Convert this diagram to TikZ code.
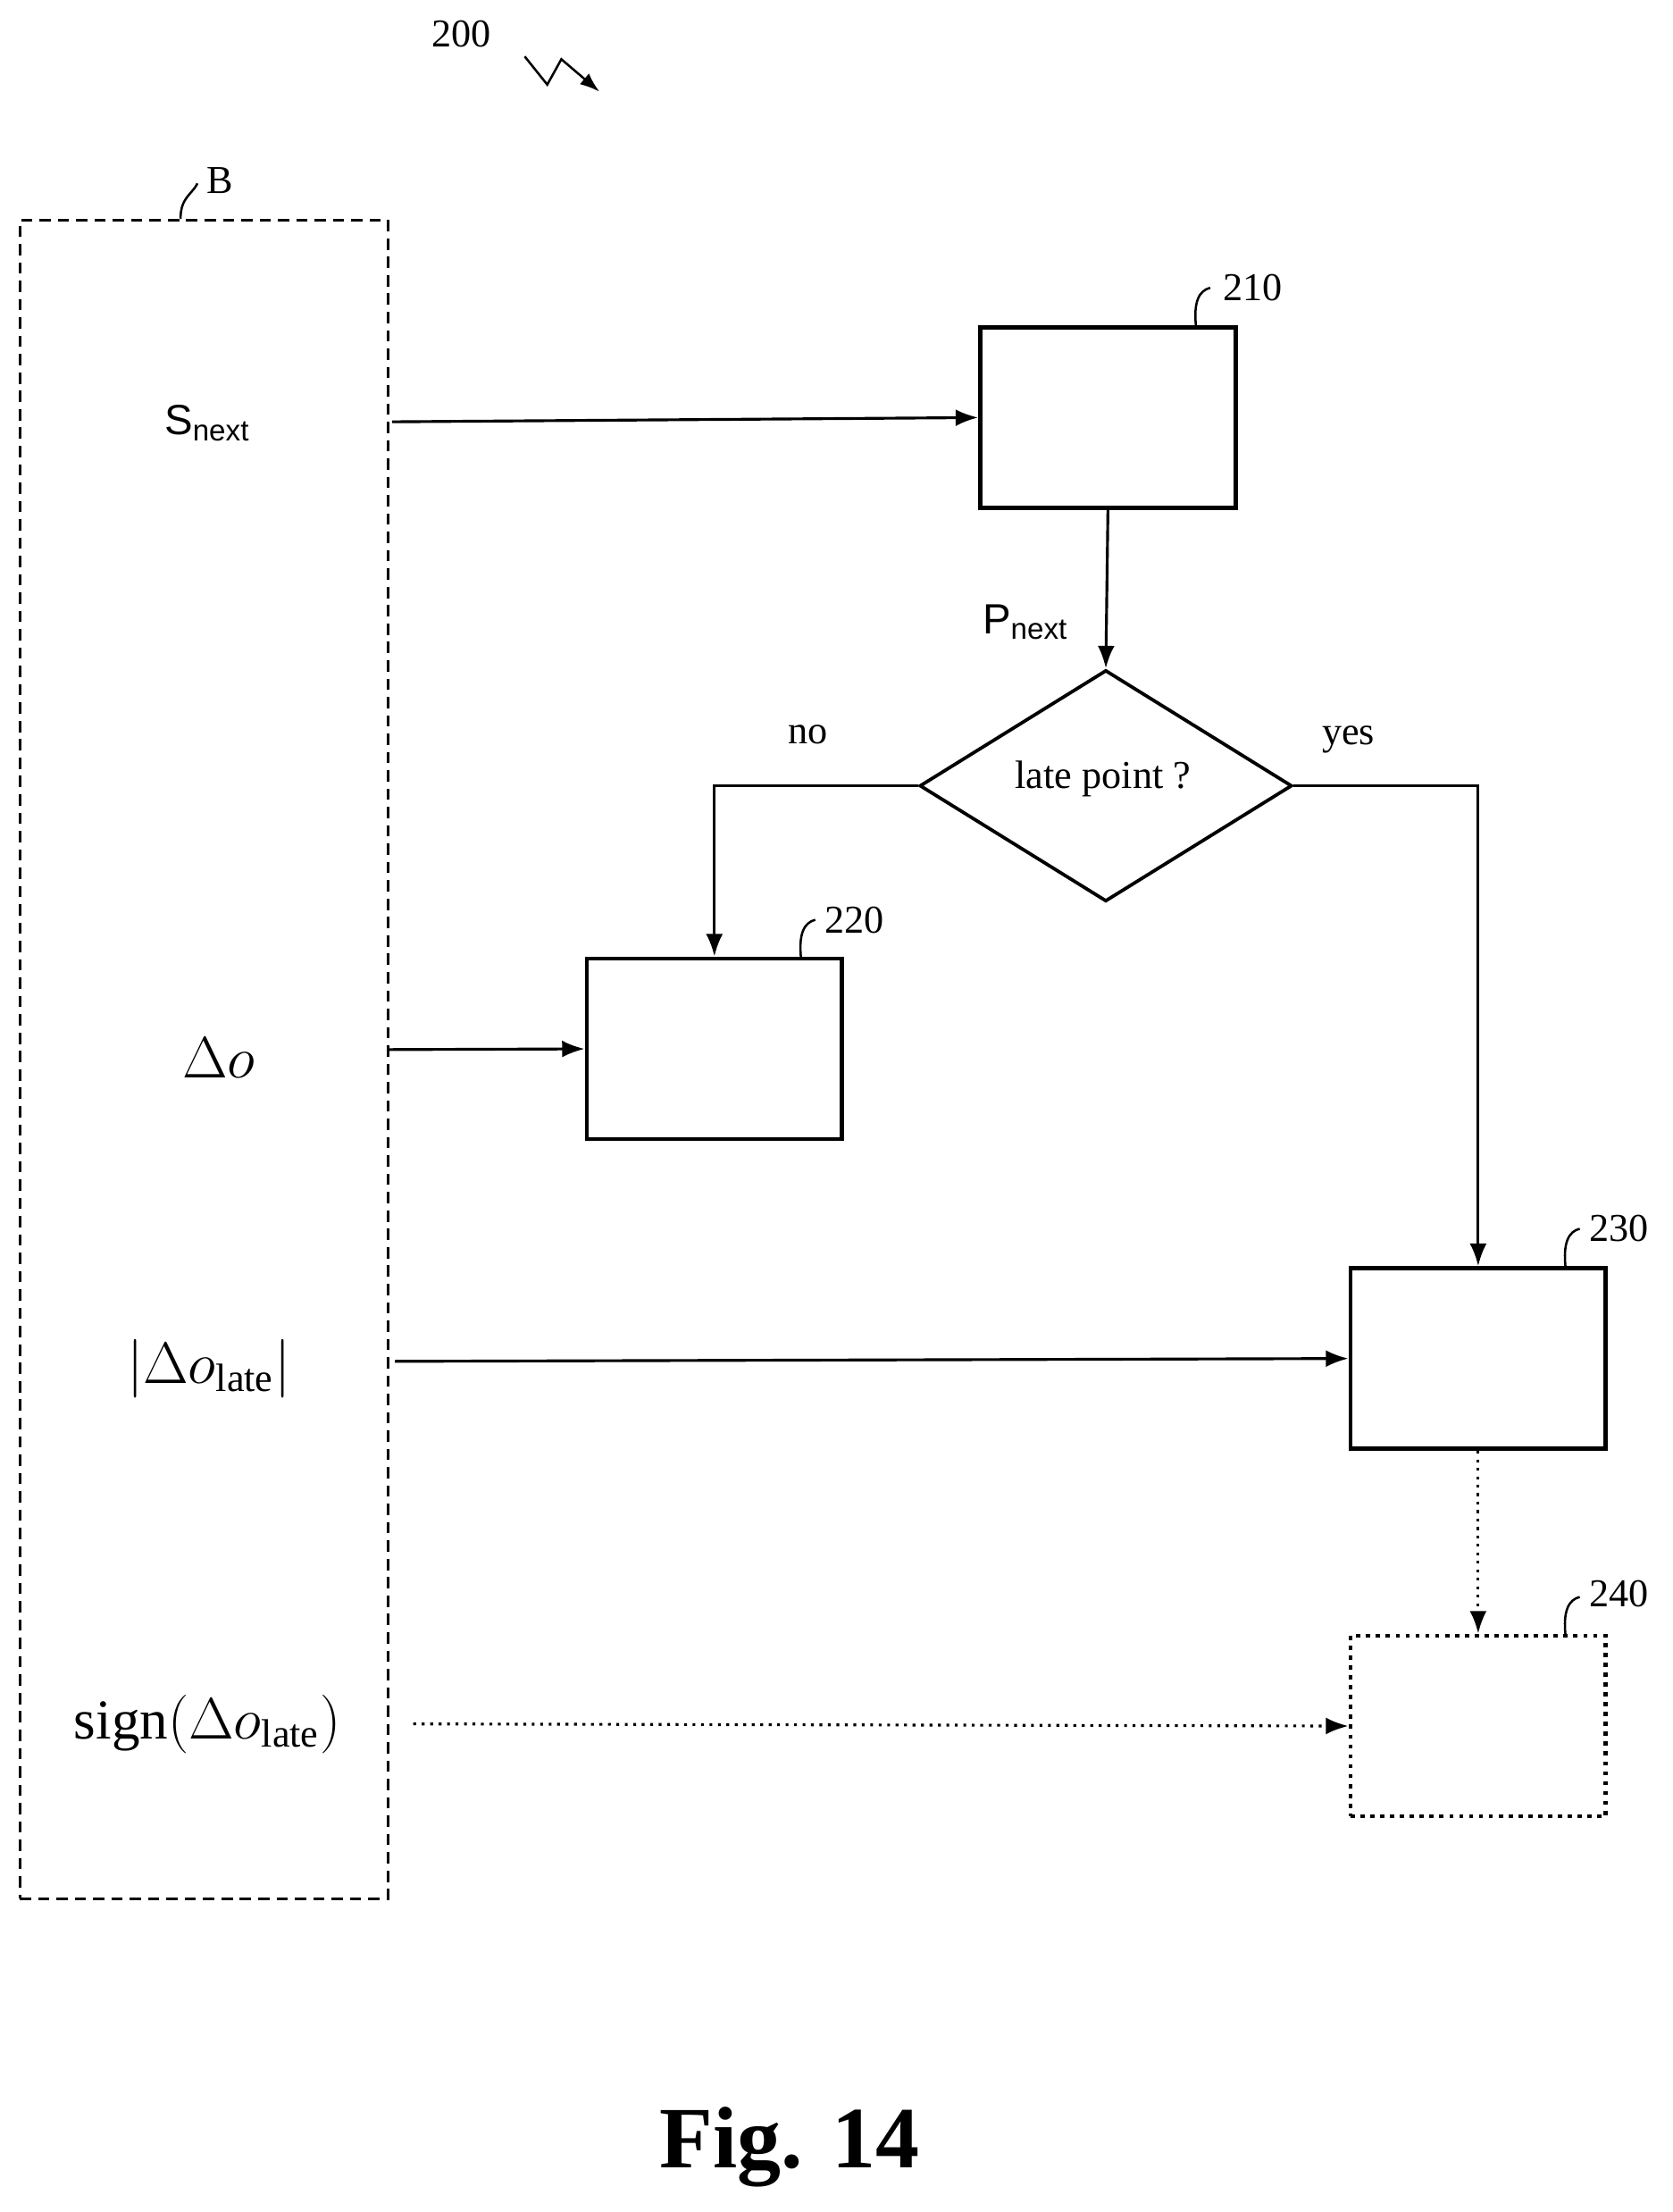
\documentclass[tikz,border=0pt]{standalone}
\usepackage{fontspec}
\setmainfont{Liberation Serif}
\newfontfamily\ls{Liberation Sans}
\usetikzlibrary{shapes.geometric,arrows.meta}
\begin{document}
\begin{tikzpicture}[x=0.5pt,y=-0.5pt,
 box/.style={draw,line width=1.5pt,minimum width=90.5pt,minimum height=64pt,inner sep=0},
 arr/.style={line width=1pt,-{Latex[length=8pt,width=6pt]}},
 lbl/.style={font=\fontsize{14}{16}\selectfont},
 mth/.style={font=\fontsize{20}{22}\selectfont},
 lead/.style={line width=0.8pt}]
\useasboundingbox (0,0) rectangle (1186,1568);
\node[draw,dash pattern=on 4pt off 2.5pt,line width=1pt,minimum width=130.5pt,minimum height=595pt,inner sep=0] (B) at (144.5,751) {};
\node[lbl] (bl) at (156,128) {B};
\draw[lead] (128,155) .. controls (128,140) and (136,138) .. (140,130);
\node[lbl] (n200) at (327,24) {200};
\coordinate (s1) at (372,40);
\coordinate (s2) at (425,65);
\draw[lead,-{Latex[length=7pt,width=5pt]}] (s1) -- (388,60) -- (398,42) -- (s2);
\node[box] (b210) at (785.5,296) {};
\node[box] (b220) at (506.5,743.5) {};
\node[box] (b230) at (1048,963) {};
\node[box,dotted] (b240) at (1048,1223.5) {};
\node[draw,diamond,line width=1.2pt,aspect=1.6,minimum width=132pt,minimum height=82pt,inner sep=0] (d) at (784,557) {};
\node[lbl] at (782,552) {late point ?};
\node[lbl] at (573,521) {no};
\node[lbl] at (956,524) {yes};
\node[lbl] at (888,204) {210};
\node[lbl] at (606,652) {220};
\node[lbl] at (1148,871) {230};
\node[lbl] at (1148,1130) {240};
\draw[lead] (848,232) .. controls (846,214) and (850,206) .. (858,204);
\draw[lead] (568,680) .. controls (566,662) and (570,654) .. (578,652);
\draw[lead] (1110,899) .. controls (1108,881) and (1112,873) .. (1120,871);
\draw[lead] (1110,1160) .. controls (1108,1142) and (1112,1134) .. (1120,1132);
\node[font=\ls\fontsize{15}{17}\selectfont] (sn) at (147,300) {S\textsubscript{next}};
\node[font=\ls\fontsize{15}{17}\selectfont] (pn) at (727,441) {P\textsubscript{next}};
\node[mth] (do) at (155,750) {$\Delta o$};
\node[mth] (dl) at (148,970) {$|\Delta o_{\mathrm{late}}|$};
\node[mth] (sg) at (147,1222) {$\mathrm{sign}(\Delta o_{\mathrm{late}})$};
\coordinate (a1) at (278,299);
\coordinate (a2) at (275,744);
\coordinate (a3) at (280,965);
\coordinate (a4) at (293,1222);
\draw[arr] (a1) -- (b210.west);
\draw[arr] (b210.south) -- (d.north);
\draw[arr] (d.west) -| (b220.north);
\draw[arr] (d.east) -| (b230.north);
\draw[arr] (a2) -- (b220.west);
\draw[arr] (a3) -- (b230.west);
\draw[arr,dotted] (b230.south) -- (b240.north);
\draw[arr,dotted] (a4) -- (b240.west);
\node[font=\bfseries\fontsize{31}{34}\selectfont] at (560,1522) {Fig. 14};
\end{tikzpicture}
\end{document}
